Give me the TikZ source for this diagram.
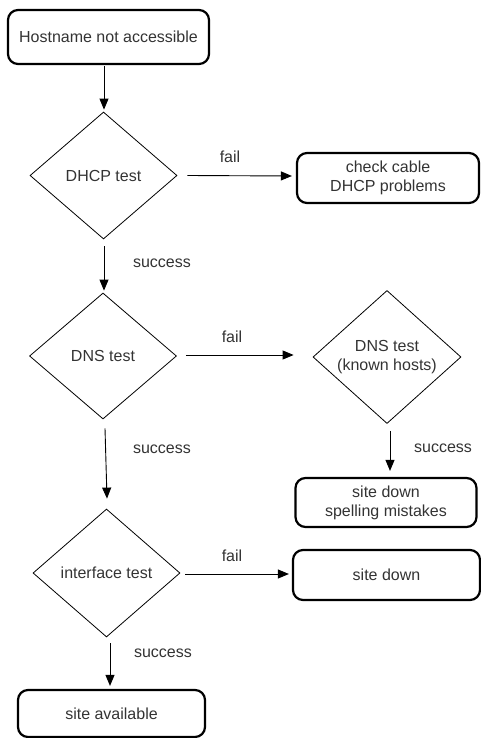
\documentclass[tikz,border=0pt]{standalone}
\usepackage{fontspec}
\setmainfont{Liberation Sans}
\usetikzlibrary{shapes.geometric,arrows.meta,calc}
\definecolor{txt}{HTML}{333333}
\begin{document}
\begin{tikzpicture}[x=1pt,y=-1pt,
  font=\fontsize{16}{19}\selectfont,
  every node/.style={text=txt},
  termbox/.style={draw=black,line width=2.2pt,rounded corners=10pt,align=center,inner sep=0pt},
  decision/.style={draw=black,line width=0.8pt,diamond,align=center,inner sep=0pt},
  arr/.style={draw=black,line width=0.9pt,-{Triangle[length=11pt,width=9pt]}},
  lbl/.style={inner sep=0pt}
]
\useasboundingbox (0,0) rectangle (481,738);

\node[termbox,minimum width=201pt,minimum height=54pt] (start) at (108.5,37) {Hostname not accessible};
\node[decision,minimum width=147pt,minimum height=127pt] (dhcp) at (103.5,175.5) {DHCP test};
\node[termbox,minimum width=182pt,minimum height=50pt] (cable) at (388,178) {check cable\\DHCP problems};
\node[decision,minimum width=147pt,minimum height=126pt] (dns) at (103,356) {DNS test};
\node[decision,minimum width=148pt,minimum height=128pt] (dnsk) at (387,357) {DNS test\\(known hosts)};
\node[termbox,minimum width=181pt,minimum height=49pt] (spell) at (386,502.5) {site down\\spelling mistakes};
\node[decision,minimum width=147pt,minimum height=128pt] (iface) at (106.5,573) {interface test};
\node[termbox,minimum width=187pt,minimum height=50pt] (down) at (386.5,575) {site down};
\node[termbox,minimum width=187pt,minimum height=47pt] (avail) at (111.5,713.5) {site available};

\draw[arr] ($(start.south)+(-4.5,1)$) -- ($(dhcp.north)+(0.5,-2)$);
\draw[arr] ($(dhcp.east)+(10,0)$) -- ($(cable.west)+(-4,-2)$);
\draw[arr] ($(dhcp.south)+(0.5,7)$) -- ($(dns.north)+(1,-2)$);
\draw[arr] ($(dns.east)+(9,-1)$) -- ($(dnsk.west)+(-19,-2)$);
\draw[arr] ($(dnsk.south)+(3,7)$) -- ($(spell.north)+(4,-6)$);
\draw[arr] ($(dns.south)+(2,9)$) -- ($(iface.north)+(0.5,-10)$);
\draw[arr] ($(iface.east)+(5,1)$) -- ($(down.west)+(-3,-1)$);
\draw[arr] ($(iface.south)+(3.5,6)$) -- ($(avail.north)+(-1.5,-3)$);

\node[lbl] (f1) at (230,157) {fail};
\node[lbl] (s1) at (162,263) {success};
\node[lbl] (f2) at (232,337) {fail};
\node[lbl] (s2) at (162,449) {success};
\node[lbl] (s3) at (443,448) {success};
\node[lbl] (f3) at (232,556) {fail};
\node[lbl] (s4) at (163,653) {success};
\end{tikzpicture}
\end{document}
